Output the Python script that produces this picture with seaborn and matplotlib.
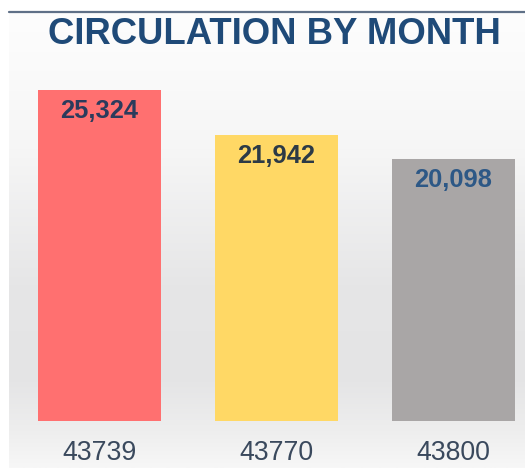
import numpy as np
import pandas as pd
import matplotlib
matplotlib.use("Agg")
import matplotlib.pyplot as plt
import seaborn as sns
from matplotlib.colors import LinearSegmentedColormap
from matplotlib.lines import Line2D

# ---- data ----
months = ["43739", "43770", "43800"]
circulation = [25324, 21942, 20098]
bar_colors = ["#ff7070", "#ffd865", "#a9a6a6"]
label_colors = ["#2b3b5c", "#2c3a46", "#2d5886"]
title = "CIRCULATION BY MONTH"

sns.set_theme(style="white")
plt.rcParams['font.family'] = ['Liberation Sans', 'DejaVu Sans']

W, H = 525, 468
fig = plt.figure(figsize=(W / 100, H / 100), dpi=100)
fig.patch.set_facecolor("white")

# background panel with soft vertical gradient
bg = fig.add_axes([9 / W, 0, 1 - 9 / W, 1 - 12 / H])
cmap = LinearSegmentedColormap.from_list(
    "bg",
    [(0.0, "#fdfdfd"), (0.3, "#f6f6f6"), (0.6, "#e6e6e7"),
     (0.8, "#e4e4e5"), (0.92, "#eeeeee"), (1.0, "#f7f7f7")])
grad = np.linspace(0, 1, 256).reshape(-1, 1)
bg.imshow(grad, aspect="auto", cmap=cmap, extent=[0, 1, 1, 0])
bg.set_axis_off()

# top rule
fig.add_artist(Line2D([9 / W, 1], [1 - 12 / H, 1 - 12 / H],
                      color="#5f7087", lw=1.6))

df = pd.DataFrame({"month": months, "circulation": circulation})

ax = fig.add_axes([11 / W, 47 / H, 1 - 11 / W, 361 / H])
ax.set_facecolor("none")
sns.barplot(data=df, x="month", y="circulation", hue="month",
            palette=bar_colors, legend=False, width=0.7, saturation=1,
            linewidth=0, edgecolor="none", ax=ax)
ax.set_xlim(-0.5, -0.5 + (W - 11) / 177)
ax.set_ylim(0, 27650)
for s in ax.spines.values():
    s.set_visible(False)
ax.set_yticks([])
ax.set_xlabel("")
ax.set_ylabel("")
ax.tick_params(axis="x", length=0, pad=14, labelsize=19.2,
               labelcolor="#3a495d")

for i, v in enumerate(circulation):
    ax.annotate(f"{v:,}", xy=(i, v), xytext=(0, -21),
                textcoords="offset pixels", ha="center", va="center",
                fontsize=18.4, fontweight="bold", color=label_colors[i])

fig.text(274.5 / W, 1 - 44.5 / H, title, ha="center", va="baseline",
         fontsize=26.3, fontweight="bold", color="#1f4a78")

fig.savefig("out.png", dpi=100)
